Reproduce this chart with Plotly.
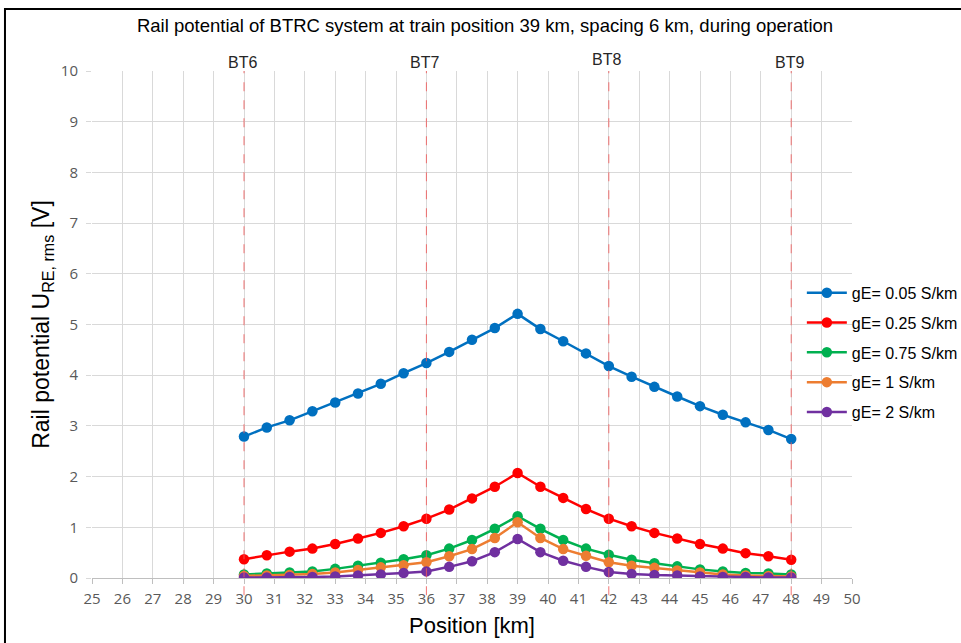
import plotly.graph_objects as go

# Measurement positions along the line [km]
positions = [30, 30.75, 31.5, 32.25, 33, 33.75, 34.5, 35.25, 36, 36.75, 37.5, 38.25, 39,
             39.75, 40.5, 41.25, 42, 42.75, 43.5, 44.25, 45, 45.75, 46.5, 47.25, 48]

# Rail potential U_RE,rms [V] for each earth conductance gE
u_005 = [2.79, 2.97, 3.11, 3.29, 3.46, 3.64, 3.83, 4.04, 4.24, 4.46, 4.70, 4.93, 5.21,
         4.91, 4.67, 4.43, 4.18, 3.97, 3.77, 3.58, 3.39, 3.22, 3.07, 2.92, 2.74]
u_025 = [0.37, 0.45, 0.52, 0.58, 0.67, 0.78, 0.89, 1.02, 1.17, 1.35, 1.57, 1.80, 2.07,
         1.80, 1.58, 1.36, 1.17, 1.02, 0.89, 0.78, 0.67, 0.58, 0.49, 0.43, 0.36]
u_075 = [0.07, 0.09, 0.11, 0.13, 0.18, 0.24, 0.30, 0.37, 0.45, 0.58, 0.75, 0.97, 1.22,
         0.97, 0.75, 0.58, 0.46, 0.36, 0.29, 0.23, 0.17, 0.13, 0.10, 0.09, 0.07]
u_1 = [0.04, 0.05, 0.06, 0.08, 0.11, 0.16, 0.21, 0.25, 0.31, 0.43, 0.57, 0.79, 1.10,
       0.79, 0.57, 0.44, 0.31, 0.24, 0.20, 0.15, 0.11, 0.07, 0.05, 0.04, 0.03]
u_2 = [0.01, 0.01, 0.02, 0.02, 0.03, 0.05, 0.07, 0.10, 0.13, 0.22, 0.33, 0.51, 0.77,
       0.51, 0.34, 0.22, 0.12, 0.08, 0.06, 0.05, 0.03, 0.02, 0.02, 0.01, 0.01]

series_names = ["gE= 0.05 S/km", "gE= 0.25 S/km", "gE= 0.75 S/km", "gE= 1 S/km", "gE= 2 S/km"]
series_values = [u_005, u_025, u_075, u_1, u_2]
series_colors = ["#0070C0", "#FF0000", "#00B050", "#ED7D31", "#7030A0"]

# Booster transformer locations
bt_names = ["BT6", "BT7", "BT8", "BT9"]
bt_positions = [30, 36, 42, 48]

x_ticks = list(range(25, 51))
y_ticks = list(range(0, 11))

FONT = "Liberation Sans, Arial, sans-serif"
TICK_FONT = "Open Sans, Noto Sans, sans-serif"

fig = go.Figure()
for i, (name, vals, col) in enumerate(zip(series_names, series_values, series_colors)):
    fig.add_trace(go.Scatter(
        x=positions, y=vals, name=name, mode="lines+markers",
        legendgroup=f"g{i}",
        line=dict(color=col, width=2.5),
        marker=dict(color=col, size=10.5),
    ))

for name, pos in zip(bt_names, bt_positions):
    fig.add_shape(type="line", xref="x", yref="paper", x0=pos, x1=pos, y0=-0.034, y1=1,
                  line=dict(color="rgba(240,90,90,0.85)", width=1, dash="dash"), layer="above")
    fig.add_annotation(x=pos, xref="x", xshift=-2, y=1.0, yref="paper", yanchor="bottom",
                       yshift=1 if name == "BT8" else -2,
                       text=name, showarrow=False,
                       font=dict(family=FONT, size=16, color="#262626"))

# Outer chart frame
fig.add_shape(type="rect", xref="paper", yref="paper", x0=-0.1145, x1=1.2, y0=-0.2, y1=1.1223,
              line=dict(color="black", width=2), fillcolor="rgba(0,0,0,0)", layer="below")

fig.update_layout(
    width=961, height=643,
    margin=dict(l=92, r=109, t=71, b=65, autoexpand=False),
    paper_bgcolor="white", plot_bgcolor="white",
    font=dict(family=FONT, color="#595959"),
    title=dict(text="Rail potential of BTRC system at train position 39 km, spacing 6 km, during operation",
               x=0.5047, xref="container", xanchor="center", y=0.9596, yref="container", yanchor="middle",
               font=dict(family=FONT, size=18.5, color="black")),
    showlegend=True,
    legend=dict(x=0.934, xanchor="left", y=0.596, yanchor="top",
                font=dict(family=FONT, size=16, color="black"),
                bgcolor="rgba(0,0,0,0)", itemwidth=40, tracegroupgap=6),
    xaxis=dict(
        range=[25, 50], tickmode="array", tickvals=x_ticks, ticktext=[str(v) for v in x_ticks],
        showgrid=True, gridcolor="#d9d9d9", gridwidth=1,
        showline=True, linecolor="#bfbfbf", linewidth=1,
        ticks="outside", ticklen=5, tickcolor="#bfbfbf",
        tickfont=dict(family=TICK_FONT, size=15, color="#595959"),
        ticklabelstandoff=2,
        zeroline=False,
        title=dict(text="Position [km]", font=dict(family=FONT, size=22, color="black"), standoff=10),
    ),
    yaxis=dict(
        range=[0, 10], tickmode="array", tickvals=y_ticks, ticktext=[str(v) for v in y_ticks],
        showgrid=True, gridcolor="#d9d9d9", gridwidth=1,
        showline=False, ticks="outside", ticklen=5, tickcolor="#d9d9d9",
        tickfont=dict(family=TICK_FONT, size=15, color="#595959"),
        ticklabelstandoff=5,
        zeroline=False,
        title=dict(text="Rail potential U<sub>RE, rms</sub> [V]",
                   font=dict(family=FONT, size=23, color="black"), standoff=4),
    ),
)

fig.write_html("out.html")
